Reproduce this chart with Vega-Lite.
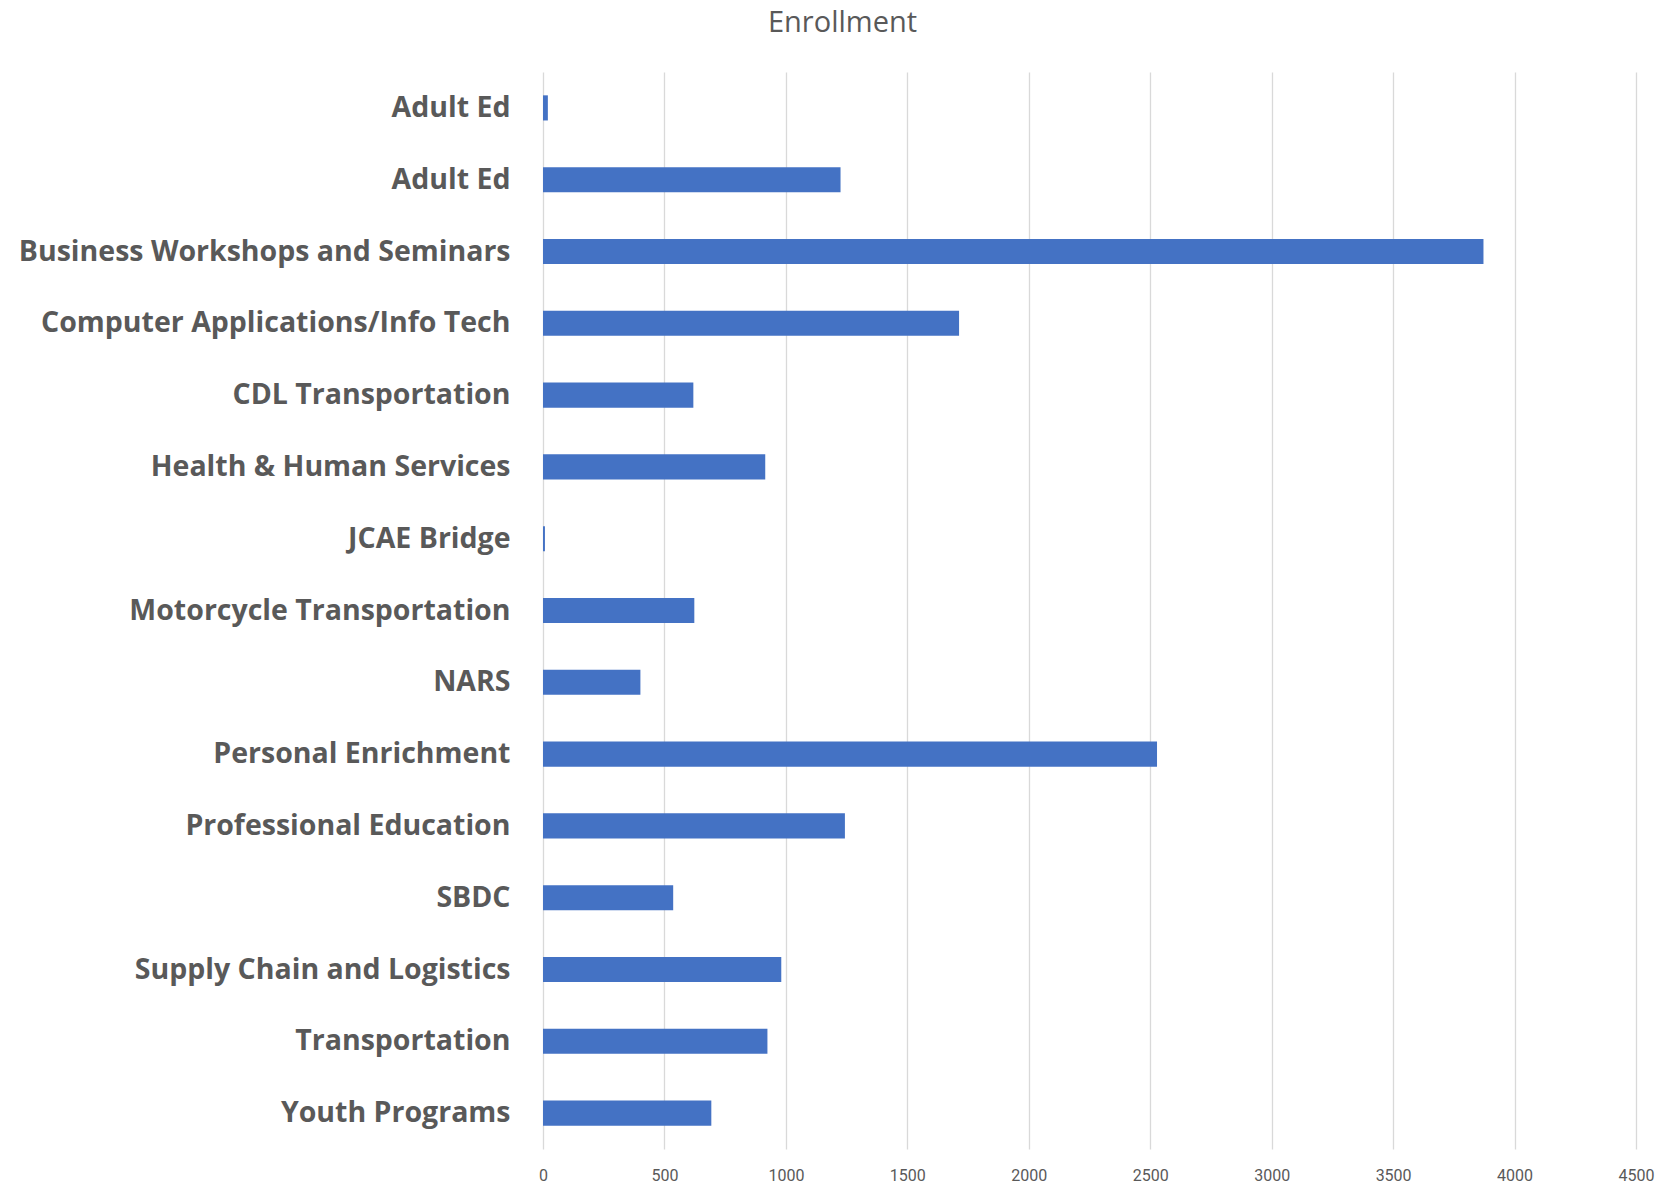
{
  "$schema": "https://vega.github.io/schema/vega-lite/v6.json",
  "autosize": {"type": "none"},
  "padding": {"left": 543, "top": 72, "right": 24, "bottom": 38},
  "width": 1093,
  "height": 1077,
  "background": "white",
  "title": {
    "text": "Enrollment",
    "font": "Open Sans",
    "fontSize": 29,
    "fontWeight": "normal",
    "color": "#595959",
    "anchor": "middle",
    "dx": -247,
    "offset": 34
  },
  "data": {
    "values": [
      {"key": "01|Adult Ed", "enrollment": 20},
      {"key": "02|Adult Ed", "enrollment": 1225},
      {"key": "03|Business Workshops and Seminars", "enrollment": 3872},
      {"key": "04|Computer Applications/Info Tech", "enrollment": 1713},
      {"key": "05|CDL Transportation", "enrollment": 619},
      {"key": "06|Health & Human Services", "enrollment": 915},
      {"key": "07|JCAE Bridge", "enrollment": 8},
      {"key": "08|Motorcycle Transportation", "enrollment": 623},
      {"key": "09|NARS", "enrollment": 401},
      {"key": "10|Personal Enrichment", "enrollment": 2528},
      {"key": "11|Professional Education", "enrollment": 1243},
      {"key": "12|SBDC", "enrollment": 536},
      {"key": "13|Supply Chain and Logistics", "enrollment": 981},
      {"key": "14|Transportation", "enrollment": 924},
      {"key": "15|Youth Programs", "enrollment": 693}
    ]
  },
  "mark": {"type": "bar", "color": "#4472C4"},
  "encoding": {
    "y": {
      "field": "key",
      "type": "nominal",
      "sort": null,
      "scale": {"paddingInner": 0.65, "paddingOuter": 0.325},
      "axis": {
        "title": null,
        "labelExpr": "split(datum.value, '|')[1]",
        "labelFont": "Open Sans",
        "labelFontSize": 28.5,
        "labelFontWeight": "bold",
        "labelColor": "#595959",
        "labelPadding": 33,
        "ticks": false,
        "domain": false,
        "grid": false,
        "labelLimit": 600
      }
    },
    "x": {
      "field": "enrollment",
      "type": "quantitative",
      "scale": {"domain": [0, 4500], "nice": false},
      "axis": {
        "title": null,
        "values": [0, 500, 1000, 1500, 2000, 2500, 3000, 3500, 4000, 4500],
        "format": "d",
        "labelFont": "Liberation Sans Narrow, Roboto",
        "labelFontSize": 16,
        "labelColor": "#595959",
        "labelPadding": 18,
        "ticks": false,
        "domain": false,
        "grid": true,
        "gridColor": "#d9d9d9",
        "gridWidth": 1.3,
        "labelFlush": false
      }
    }
  },
  "config": {"view": {"stroke": null}}
}
